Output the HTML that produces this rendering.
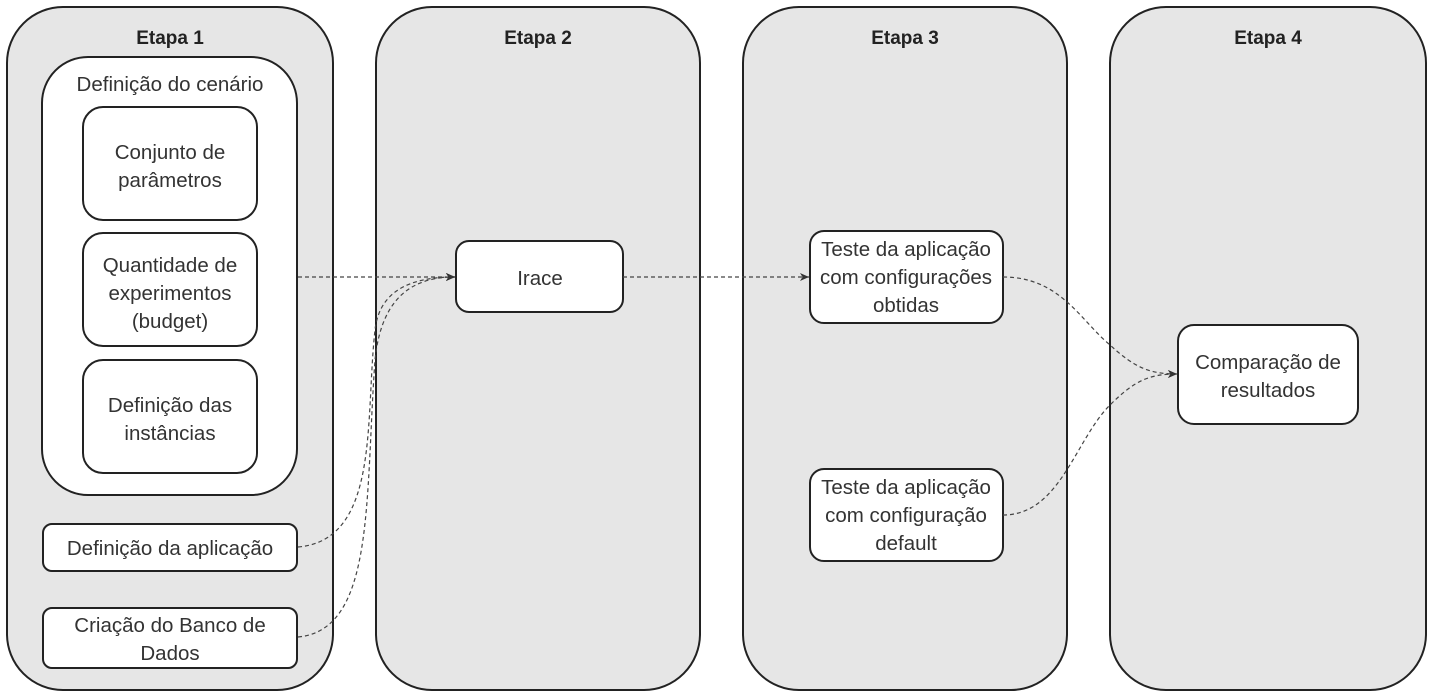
<!DOCTYPE html>
<html><head><meta charset="utf-8">
<style>
html,body{margin:0;padding:0;background:#fff;}
svg{display:block;}
text{font-family:"Liberation Sans",sans-serif;font-size:20.5px;fill:#333;}
.t{font-weight:bold;fill:#222;font-size:19px;}
</style></head><body>
<svg width="1432" height="697" viewBox="0 0 1432 697" xmlns="http://www.w3.org/2000/svg">
<defs>
<marker id="a" markerWidth="12" markerHeight="12" refX="10" refY="6" orient="auto" markerUnits="userSpaceOnUse">
<path d="M1,2 L10,6 L1,10 L3.5,6 Z" fill="#333"/>
</marker>
</defs>
<g stroke="#222" stroke-width="2" fill="#e6e6e6">
<rect x="7" y="7" width="326" height="683" rx="56"/>
<rect x="376" y="7" width="324" height="683" rx="56"/>
<rect x="743" y="7" width="324" height="683" rx="56"/>
<rect x="1110" y="7" width="316" height="683" rx="56"/>
</g>
<g stroke="#222" stroke-width="2" fill="#fff">
<rect x="42" y="57" width="255" height="438" rx="46"/>
<rect x="83" y="107" width="174" height="113" rx="20"/>
<rect x="83" y="233" width="174" height="113" rx="20"/>
<rect x="83" y="360" width="174" height="113" rx="20"/>
<rect x="43" y="524" width="254" height="47" rx="9"/>
<rect x="43" y="608" width="254" height="60" rx="9"/>
<rect x="456" y="241" width="167" height="71" rx="13"/>
<rect x="810" y="231" width="193" height="92" rx="14"/>
<rect x="810" y="469" width="193" height="92" rx="14"/>
<rect x="1178" y="325" width="180" height="99" rx="16"/>
</g>
<g stroke="#444" stroke-width="1.2" fill="none" stroke-dasharray="4,3">
<path d="M298,277 L455,277" marker-end="url(#a)"/>
<path d="M298,547 C380,540 365,420 375,330 C380,285 420,277 455,277" marker-end="url(#a)"/>
<path d="M298,637 C375,630 365,500 375,360 C382,290 420,277 455,277" marker-end="url(#a)"/>
<path d="M623,277 L809,277" marker-end="url(#a)"/>
<path d="M1003,277 C1060,277 1080,320 1110,345 C1135,368 1150,374 1177,374" marker-end="url(#a)"/>
<path d="M1003,515 C1060,515 1075,440 1110,405 C1135,380 1150,374 1177,374" marker-end="url(#a)"/>
</g>
<g text-anchor="middle">
<text class="t" x="170" y="44">Etapa 1</text>
<text class="t" x="538" y="44">Etapa 2</text>
<text class="t" x="905" y="44">Etapa 3</text>
<text class="t" x="1268" y="44">Etapa 4</text>
<text x="170" y="91">Definição do cenário</text>
<text x="170" y="159">Conjunto de</text>
<text x="170" y="187">parâmetros</text>
<text x="170" y="272">Quantidade de</text>
<text x="170" y="300">experimentos</text>
<text x="170" y="328">(budget)</text>
<text x="170" y="412">Definição das</text>
<text x="170" y="440">instâncias</text>
<text x="170" y="555">Definição da aplicação</text>
<text x="170" y="632">Criação do Banco de</text>
<text x="170" y="660">Dados</text>
<text x="540" y="285">Irace</text>
<text x="906" y="256">Teste da aplicação</text>
<text x="906" y="284">com configurações</text>
<text x="906" y="312">obtidas</text>
<text x="906" y="494">Teste da aplicação</text>
<text x="906" y="522">com configuração</text>
<text x="906" y="550">default</text>
<text x="1268" y="369">Comparação de</text>
<text x="1268" y="397">resultados</text>
</g>
</svg>
</body></html>
